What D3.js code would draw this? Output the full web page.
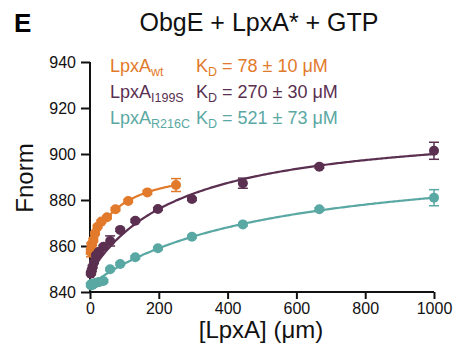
<!DOCTYPE html>
<html>
<head>
<meta charset="utf-8">
<script src="https://cdn.jsdelivr.net/npm/d3@7"></script>
<style>
body { margin: 0; background: #fff; }
svg { display: block; font-family: "Liberation Sans", Arial, sans-serif; }
</style>
</head>
<body>
<svg id="chart" width="457" height="354"></svg>
<script>
// ---- data ----
const seriesNames = ["wt", "I199S", "R216C"];
const seriesColors = ["#e27a2b", "#5a2f50", "#5aa8a3"];
const kdLabels = ["78 ± 10 μM", "270 ± 30 μM", "521 ± 73 μM"];

const wtX = [250, 166.7, 111.1, 74.1, 49.4, 32.9, 21.9, 14.6, 9.75, 6.5, 4.3, 2.9, 1.9];
const wtY = [886.5, 883.3, 879.6, 876, 872.5, 870.6, 868.4, 865.5, 862.6, 861, 859.5, 858.3, 857.5];
const wtErr = [2.8, 0.8, 0.6, 0.6, 0.6, 0.6, 0.6, 0.6, 0.8, 0.8, 1, 3, 1];

const i199sX = [1000, 666.7, 444.4, 296.3, 197.5, 131.7, 87.8, 58.5, 39.0, 26.0, 17.3, 11.6, 7.7, 5.1, 3.4, 2.3];
const i199sY = [901.4, 894.5, 887.3, 880.4, 876.1, 871, 867, 862.2, 859.7, 857.5, 856, 853, 851, 849.5, 848.5, 848];
const i199sErr = [3.7, 0.6, 2.2, 0.6, 0.6, 0.6, 0.6, 2.2, 0.6, 0.6, 0.6, 0.6, 0.6, 0.6, 0.6, 0.6];

const r216cX = [1000, 666.7, 444.4, 296.3, 197.5, 131.7, 87.8, 58.5, 39.0, 26.0, 17.3, 11.6, 7.7, 5.1, 3.4, 2.3];
const r216cY = [881, 876, 869.4, 864, 859, 855.1, 852.2, 849.9, 844.8, 844.3, 844, 843.6, 843.2, 843.6, 842.8, 843.2];
const r216cErr = [3.5, 0.6, 0.6, 0.6, 0.6, 0.6, 0.6, 0.6, 0.6, 0.6, 0.6, 0.6, 0.6, 0.6, 0.6, 0.6];

// one-site binding fit parameters: y0, Bmax, Kd
const fitY0 = [857, 848, 843];
const fitBmax = [38.7, 66, 57.8];
const fitKd = [78, 270, 521];
const fitXmax = [250, 1000, 1000];

const xTicks = [0, 200, 400, 600, 800, 1000];
const yTicks = [840, 860, 880, 900, 920, 940];

// ---- drawing ----
const svg = d3.select("#chart");
const x = d3.scaleLinear().domain([0, 1000]).range([90, 434]);
const y = d3.scaleLinear().domain([840, 940]).range([292, 62]);

const series = [
  {x: wtX, y: wtY, e: wtErr},
  {x: i199sX, y: i199sY, e: i199sErr},
  {x: r216cX, y: r216cY, e: r216cErr}
];

// axes
const xAxis = svg.append("g").attr("transform", "translate(0,292)")
  .call(d3.axisBottom(x).tickValues(xTicks).tickSize(7).tickPadding(4).tickFormat(d3.format("d")));
const yAxis = svg.append("g").attr("transform", "translate(90,0)")
  .call(d3.axisLeft(y).tickValues(yTicks).tickSize(9).tickPadding(5).tickFormat(d3.format("d")));
[xAxis, yAxis].forEach(g => {
  g.select(".domain").attr("stroke", "#111").attr("stroke-width", 2);
  g.selectAll(".tick line").attr("stroke", "#111").attr("stroke-width", 2);
  g.selectAll(".tick text").attr("font-size", 16).attr("fill", "#111")
    .attr("font-family", "Liberation Sans, Arial, sans-serif");
});
xAxis.select(".domain").attr("d", `M${x(0)},0H${x(1000)}`);
yAxis.select(".domain").attr("d", `M0,${y(940)}V${y(840)}`);

// fit curves
series.forEach((s, i) => {
  const pts = d3.range(0, 201).map(k => {
    const xv = fitXmax[i] * k / 200;
    return [xv, fitY0[i] + fitBmax[i] * xv / (fitKd[i] + xv)];
  });
  svg.append("path")
    .attr("d", d3.line().x(d => x(d[0])).y(d => y(d[1]))(pts))
    .attr("fill", "none").attr("stroke", seriesColors[i]).attr("stroke-width", 2.2);
});

// error bars and points
series.forEach((s, i) => {
  const g = svg.append("g");
  s.x.forEach((xv, j) => {
    const cx = x(xv), y1 = y(s.y[j] + s.e[j]), y2 = y(s.y[j] - s.e[j]);
    g.append("line").attr("x1", cx).attr("x2", cx).attr("y1", y1).attr("y2", y2)
      .attr("stroke", seriesColors[i]).attr("stroke-width", 1.5);
    [y1, y2].forEach(yy => g.append("line").attr("x1", cx - 5).attr("x2", cx + 5)
      .attr("y1", yy).attr("y2", yy).attr("stroke", seriesColors[i]).attr("stroke-width", 1.5));
    g.append("circle").attr("cx", cx).attr("cy", y(s.y[j])).attr("r", 5)
      .attr("fill", seriesColors[i]);
  });
});

// title, panel letter, axis labels
svg.append("text").attr("x", 14).attr("y", 32).attr("font-size", 26).attr("font-weight", "bold")
  .attr("fill", "#000").text("E");
svg.append("text").attr("x", 259).attr("y", 31).attr("text-anchor", "middle").attr("font-size", 25)
  .attr("fill", "#111").text("ObgE + LpxA* + GTP");
svg.append("text").attr("transform", "translate(33,178) rotate(-90)").attr("text-anchor", "middle")
  .attr("font-size", 24).attr("fill", "#111").text("Fnorm");
svg.append("text").attr("x", 261).attr("y", 338).attr("text-anchor", "middle").attr("font-size", 24)
  .attr("fill", "#111").text("[LpxA] (μm)");

// legend
const legendY = [72, 98, 124];
series.forEach((s, i) => {
  const t = svg.append("text").attr("x", 110).attr("y", legendY[i]).attr("font-size", 18)
    .attr("fill", seriesColors[i]);
  t.append("tspan").text("LpxA");
  t.append("tspan").attr("font-size", 12.5).attr("dy", 4).text(seriesNames[i]);
  const k = svg.append("text").attr("x", 196).attr("y", legendY[i]).attr("font-size", 18)
    .attr("fill", seriesColors[i]);
  k.append("tspan").text("K");
  k.append("tspan").attr("font-size", 12.5).attr("dy", 4).text("D");
  k.append("tspan").attr("dy", -4).text(" = " + kdLabels[i]);
});
</script>
</body>
</html>
